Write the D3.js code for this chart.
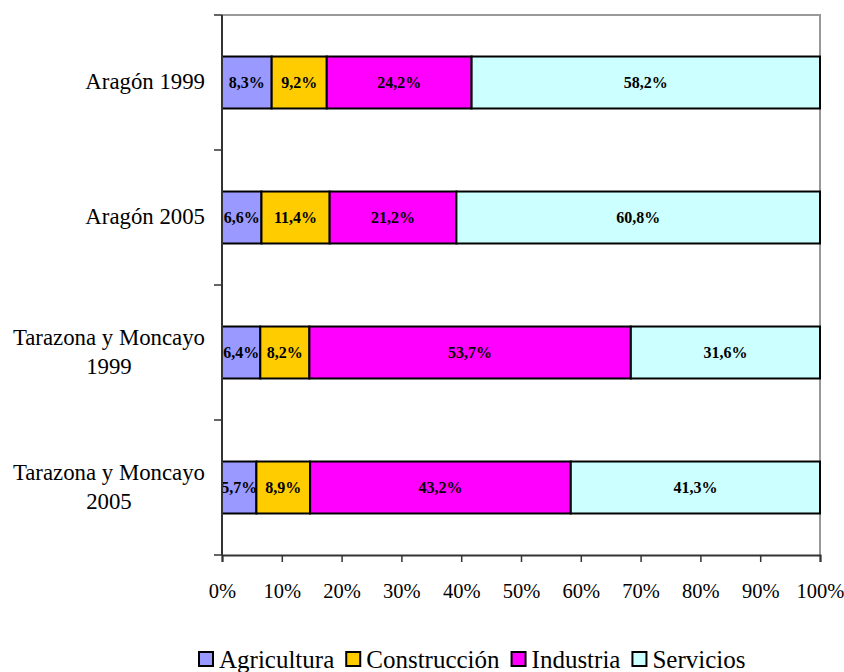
<!DOCTYPE html>
<html>
<head>
<meta charset="utf-8">
<script src="https://cdn.jsdelivr.net/npm/d3@7"></script>
<style>
  body { margin: 0; background: #fff; }
</style>
</head>
<body>
<div id="chart"></div>
<script>
/* DATA */
const categories = ["Aragón 1999", "Aragón 2005", "Tarazona y Moncayo 1999", "Tarazona y Moncayo 2005"];
const categoryLines = [["Aragón 1999"], ["Aragón 2005"], ["Tarazona y Moncayo", "1999"], ["Tarazona y Moncayo", "2005"]];
const sectors = ["Agricultura", "Construcción", "Industria", "Servicios"];
const agricultura = [8.3, 6.6, 6.4, 5.7];
const construccion = [9.2, 11.4, 8.2, 8.9];
const industria = [24.2, 21.2, 53.7, 43.2];
const servicios = [58.2, 60.8, 31.6, 41.3];
const xTicks = [0, 0.1, 0.2, 0.3, 0.4, 0.5, 0.6, 0.7, 0.8, 0.9, 1];
const colors = ["#9999ff", "#ffcc00", "#ff00ff", "#ccffff"];

const FONT = '"Liberation Serif"';
const width = 844, height = 672;
const margin = { top: 15, right: 24, bottom: 117, left: 222 };

const rows = categories.map((c, i) => ({
  category: c,
  Agricultura: agricultura[i],
  "Construcción": construccion[i],
  Industria: industria[i],
  Servicios: servicios[i]
}));

const svg = d3.select("#chart").append("svg")
  .attr("width", width)
  .attr("height", height);

// scales
const xScale = d3.scaleLinear().domain([0, 1]).range([margin.left, width - margin.right]);
const yScale = d3.scaleBand()
  .domain(categories)
  .range([margin.top, height - margin.bottom])
  .paddingInner(0.615)
  .paddingOuter(0.3075);
const color = d3.scaleOrdinal().domain(sectors).range(colors);

const stacked = d3.stack().keys(sectors).offset(d3.stackOffsetExpand)(rows);

// plot frame (top / right in grey)
const x0 = xScale(0), x1 = xScale(1), y0 = margin.top, y1 = height - margin.bottom;
svg.append("path")
  .attr("d", `M${x0},${y0}H${x1}V${y1}`)
  .attr("fill", "none")
  .attr("stroke", "#999")
  .attr("stroke-width", 2);

// bars
const groups = svg.selectAll(".series")
  .data(stacked)
  .join("g")
  .attr("class", "series")
  .attr("fill", d => color(d.key));

groups.selectAll("rect")
  .data(d => d.map(p => ({ p, key: d.key })))
  .join("rect")
  .attr("x", d => xScale(d.p[0]))
  .attr("width", d => xScale(d.p[1]) - xScale(d.p[0]))
  .attr("y", d => yScale(d.p.data.category))
  .attr("height", yScale.bandwidth())
  .attr("stroke", "#000")
  .attr("stroke-width", 2);

// value labels
groups.selectAll("text")
  .data(d => d.map(p => ({ p, key: d.key })))
  .join("text")
  .attr("x", d => (xScale(d.p[0]) + xScale(d.p[1])) / 2)
  .attr("y", d => yScale(d.p.data.category) + yScale.bandwidth() / 2)
  .attr("dy", "0.35em")
  .attr("text-anchor", "middle")
  .attr("fill", "#000")
  .style("font-family", FONT)
  .style("font-weight", "bold")
  .attr("font-size", 16)
  .text(d => d.p.data[d.key].toFixed(1).replace(".", ",") + "%");

// x axis
const xAxis = d3.axisBottom(xScale)
  .tickValues(xTicks)
  .tickFormat(d3.format(".0%"))
  .tickSize(7)
  .tickPadding(21);
const xAxisGroup = svg.append("g")
  .attr("transform", `translate(0, ${y1})`)
  .call(xAxis)
  .attr("font-family", null)
  .attr("font-size", null);
xAxisGroup.select(".domain").attr("stroke", "#333").attr("stroke-width", 2);
xAxisGroup.selectAll(".tick line").attr("stroke", "#333").attr("stroke-width", 1.5);
xAxisGroup.selectAll(".tick text")
  .style("font-family", FONT)
  .attr("font-size", 20.5)
  .attr("fill", "#000");

// y axis line + boundary ticks
svg.append("line")
  .attr("x1", x0).attr("x2", x0)
  .attr("y1", y0).attr("y2", y1)
  .attr("stroke", "#333").attr("stroke-width", 2);
const boundaries = d3.range(categories.length + 1).map(i => y0 + i * yScale.step());
svg.selectAll(".ytick")
  .data(boundaries)
  .join("line")
  .attr("class", "ytick")
  .attr("x1", x0 - 8).attr("x2", x0)
  .attr("y1", d => d).attr("y2", d => d)
  .attr("stroke", "#333").attr("stroke-width", 1.5);

// category labels (wrapped lines centred, block right-aligned)
const labelRight = 205, lineH = 29;
categories.forEach((c, i) => {
  const lines = categoryLines[i];
  const g = svg.append("g");
  const texts = g.selectAll("text")
    .data(lines)
    .join("text")
    .style("font-family", FONT)
    .attr("font-size", 22.8)
    .attr("fill", "#000")
    .attr("text-anchor", "middle")
    .attr("y", (d, j) => yScale(c) + yScale.bandwidth() / 2 + (j - (lines.length - 1) / 2) * lineH)
    .attr("dy", "0.3em")
    .text(d => d);
  const maxW = d3.max(texts.nodes(), n => n.getComputedTextLength());
  texts.attr("x", labelRight - maxW / 2);
});

// legend
const legend = svg.append("g").attr("transform", "translate(199, 652)");
let lx = 0;
sectors.forEach((s, i) => {
  legend.append("rect")
    .attr("x", lx).attr("y", 0)
    .attr("width", 14).attr("height", 14)
    .attr("fill", color(s))
    .attr("stroke", "#000").attr("stroke-width", 2);
  const t = legend.append("text")
    .attr("x", lx + 20).attr("y", 16)
    .style("font-family", FONT)
    .attr("font-size", 25)
    .attr("fill", "#000")
    .text(s);
  lx += 20 + t.node().getComputedTextLength() + 12;
});
</script>
</body>
</html>
